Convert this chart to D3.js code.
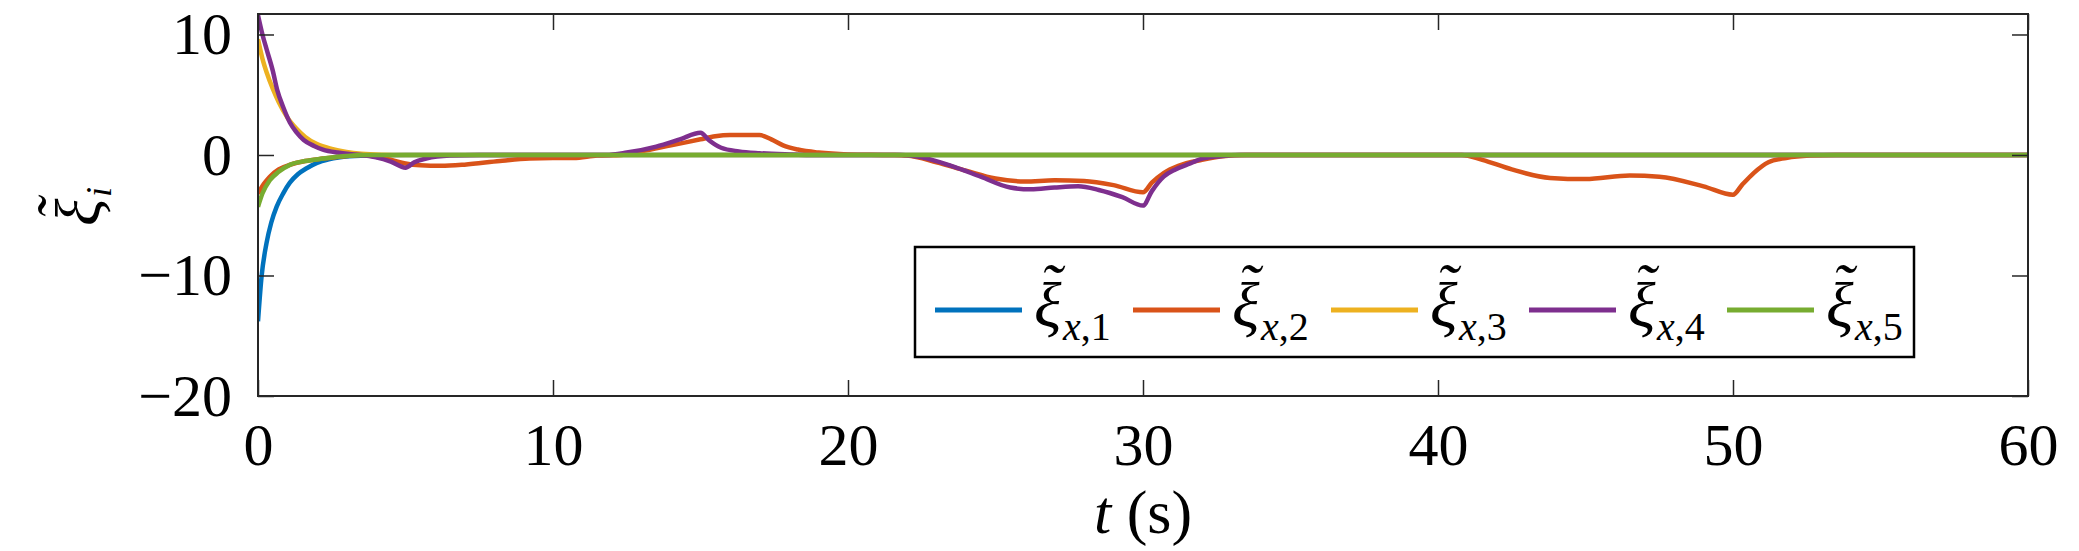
<!DOCTYPE html>
<html lang="en">
<head>
    <meta charset="UTF-8">
    <title>xi tilde</title>
    <script src="https://cdn.jsdelivr.net/npm/d3@7"></script>
    <style>
        body { margin: 0; background: #fff; }
        text { font-family: "Liberation Serif", "DejaVu Serif", serif; fill: #000; }
    </style>
</head>
<body>
<script>
    // data: [t (s), value]
    const xTicks = [0, 10, 20, 30, 40, 50, 60]
    const yTicks = [-20, -10, 0, 10]
    const xi1 = [[0, -13.8], [0.12, -10.1], [0.29, -7.3], [0.45, -5.6], [0.63, -4.3], [0.85, -3.2], [1.08, -2.3],
        [1.35, -1.6], [1.65, -1.1], [2.0, -0.65], [2.4, -0.35], [3.1, -0.1], [4, -0.02], [5, 0], [60, 0]]
    const xi2 = [[0, -3.2], [0.2, -2.4], [0.4, -1.8], [0.7, -1.2], [1.1, -0.8], [1.6, -0.5], [2.2, -0.3], [3, -0.08],
        [3.5, 0], [4, -0.15], [4.5, -0.4], [5, -0.7], [5.5, -0.85], [6.2, -0.9], [7, -0.8], [8.2, -0.5], [9.2, -0.3],
        [10, -0.25], [10.7, -0.25], [11.5, -0.05], [12.3, 0], [13, 0.3], [14, 0.8], [15, 1.3], [15.5, 1.55],
        [16, 1.65], [17, 1.65], [17.4, 1.3], [17.8, 0.8], [18.3, 0.45], [19, 0.2], [20, 0.05], [21.5, 0],
        [22, -0.05], [23, -0.6], [24, -1.3], [25, -1.95], [26, -2.2], [27, -2.1], [28, -2.15], [29, -2.5],
        [30, -3.1], [30.3, -2.3], [30.7, -1.5], [31.2, -0.9], [32, -0.4], [32.7, -0.1], [33.5, 0], [40.8, 0],
        [41.5, -0.4], [42.5, -1.2], [43.8, -1.9], [45, -2.0], [46.5, -1.7], [47.5, -1.8], [49, -2.6], [50, -3.3],
        [50.3, -2.5], [50.7, -1.5], [51.2, -0.6], [51.8, -0.25], [52.6, -0.05], [53.5, 0], [60, 0]]
    const xi3 = [[0, 9.6], [0.15, 8.0], [0.3, 6.8], [0.5, 5.5], [0.7, 4.4], [1.0, 3.1], [1.3, 2.2], [1.6, 1.5],
        [2.0, 0.9], [2.5, 0.5], [3, 0.25], [3.5, 0.1], [4.2, 0.02], [5, 0], [60, 0]]
    const xi4 = [[0, 11.6], [0.15, 10.0], [0.3, 8.7], [0.5, 7.0], [0.65, 5.4], [0.85, 4.0], [1.08, 2.7], [1.3, 1.9],
        [1.55, 1.25], [1.9, 0.75], [2.2, 0.45], [2.7, 0.2], [3.1, 0.08], [3.5, 0], [4, -0.2], [4.5, -0.55],
        [5, -1.05], [5.3, -0.6], [5.7, -0.3], [6.5, -0.05], [7.5, 0], [11.8, 0], [12.5, 0.2], [13.5, 0.7],
        [14.3, 1.3], [15, 1.85], [15.3, 1.2], [15.7, 0.6], [16.3, 0.3], [17, 0.15], [18, 0.05], [19, 0], [21.8, 0],
        [22.5, -0.2], [23.5, -0.9], [24.5, -1.8], [25.5, -2.7], [26.2, -2.85], [27, -2.7], [27.8, -2.6],
        [28.5, -2.9], [29.3, -3.5], [30, -4.2], [30.3, -3.0], [30.7, -1.8], [31.1, -1.2], [31.6, -0.7], [32, -0.3],
        [32.6, -0.1], [33.3, 0], [60, 0]]
    const xi5 = [[0, -4.3], [0.15, -3.2], [0.4, -2.1], [0.7, -1.4], [1.1, -0.8], [1.6, -0.5], [2.2, -0.3],
        [3, -0.08], [3.6, 0], [60, 0]]
    const series = [xi1, xi2, xi3, xi4, xi5]
    const names = ['1', '2', '3', '4', '5']
    const colors = ['#0072BD', '#D95319', '#EDB120', '#7E2F8E', '#77AC30']

    const [width, height] = [2079, 551]
    const margin = {top: 14, right: 51, bottom: 155, left: 258}
    const innerW = width - margin.left - margin.right
    const innerH = height - margin.top - margin.bottom
    const tickLen = 16
    const xiTilde = '\u03be\u02dc'  // xi followed by a small tilde, repositioned above it per glyph

    const svg = d3.select('body').append('svg').attr('width', width).attr('height', height)
    const x = d3.scaleLinear().domain([0, 60]).range([0, innerW])
    const y = d3.scaleLinear().domain([-20, 11.7]).range([innerH, 0])
    const g = svg.append('g').attr('transform', `translate(${margin.left}, ${margin.top})`)

    g.append('clipPath').attr('id', 'clip').append('rect').attr('width', innerW).attr('height', innerH)

    const line = d3.line().curve(d3.curveMonotoneX).x(d => x(d[0])).y(d => y(d[1]))
    g.append('g').attr('clip-path', 'url(#clip)')
        .selectAll('path').data(series).join('path')
        .attr('d', line)
        .attr('fill', 'none')
        .attr('stroke', (d, i) => colors[i])
        .attr('stroke-width', 4.5)
        .attr('stroke-linejoin', 'round')

    // box axes, ticks pointing inward (matlab style)
    const axisStyle = sel => {
        sel.select('.domain').remove()
        sel.selectAll('line').attr('stroke', '#262626').attr('stroke-width', 1.5)
        sel.selectAll('text').style('font-family', '"Liberation Serif", serif').style('font-size', '60px').attr('fill', '#000')
    }
    g.append('g').attr('transform', `translate(0, ${innerH})`)
        .call(d3.axisBottom(x).tickValues(xTicks).tickSizeInner(-tickLen).tickSizeOuter(0).tickPadding(26))
        .call(axisStyle)
        .selectAll('text').attr('dy', '0.71em')
    g.append('g').attr('transform', 'translate(0, 0)')
        .call(d3.axisTop(x).tickValues(xTicks).tickSizeInner(-tickLen).tickSizeOuter(0).tickFormat(''))
        .call(axisStyle)
    g.append('g')
        .call(d3.axisLeft(y).tickValues(yTicks).tickSizeInner(-tickLen).tickSizeOuter(0).tickPadding(26)
            .tickFormat(d => d < 0 ? '\u2212' + Math.abs(d) : d))
        .call(axisStyle)
    g.append('g').attr('transform', `translate(${innerW}, 0)`)
        .call(d3.axisRight(y).tickValues(yTicks).tickSizeInner(-tickLen).tickSizeOuter(0).tickFormat(''))
        .call(axisStyle)
    g.append('rect').attr('width', innerW).attr('height', innerH)
        .attr('fill', 'none').attr('stroke', '#262626').attr('stroke-width', 2)

    // x label
    const xl = svg.append('text').attr('x', margin.left + innerW / 2).attr('y', 533)
        .attr('text-anchor', 'middle').style('font-size', '62px')
    xl.append('tspan').style('font-style', 'italic').text('t')
    xl.append('tspan').text(' (s)')

    // xi with tilde: one text node, the tilde glyph lifted over the xi
    const drawXi = (sel, x0, y0) => sel.append('text')
        .attr('x', `${x0} ${x0 + 6}`).attr('y', `${y0} ${y0 - 19}`)
        .style('font-size', '64px').style('font-style', 'italic').text(xiTilde)

    // y label, rotated
    const yl = svg.append('g').attr('transform', 'translate(100, 226) rotate(-90)')
    drawXi(yl, 0, 0)
    yl.append('text').attr('x', 29).attr('y', 11).style('font-size', '36px').style('font-style', 'italic').text('i')

    // legend
    const leg = svg.append('g').attr('transform', 'translate(915, 247)')
    leg.append('rect').attr('width', 999).attr('height', 110)
        .attr('fill', '#fff').attr('stroke', '#000').attr('stroke-width', 2.5)
    const entry = leg.selectAll('g.entry').data(names).join('g').attr('class', 'entry')
        .attr('transform', (d, i) => `translate(${20 + i * 198}, 0)`)
    entry.append('line').attr('x1', 0).attr('x2', 87).attr('y1', 63).attr('y2', 63)
        .attr('stroke', (d, i) => colors[i]).attr('stroke-width', 5)
    entry.each(function () { drawXi(d3.select(this), 99, 80) })
    const sub = entry.append('text').attr('x', 128).attr('y', 93).style('font-size', '40px')
    sub.append('tspan').style('font-style', 'italic').text('x')
    sub.append('tspan').text(d => ',' + d)
</script>
</body>
</html>
